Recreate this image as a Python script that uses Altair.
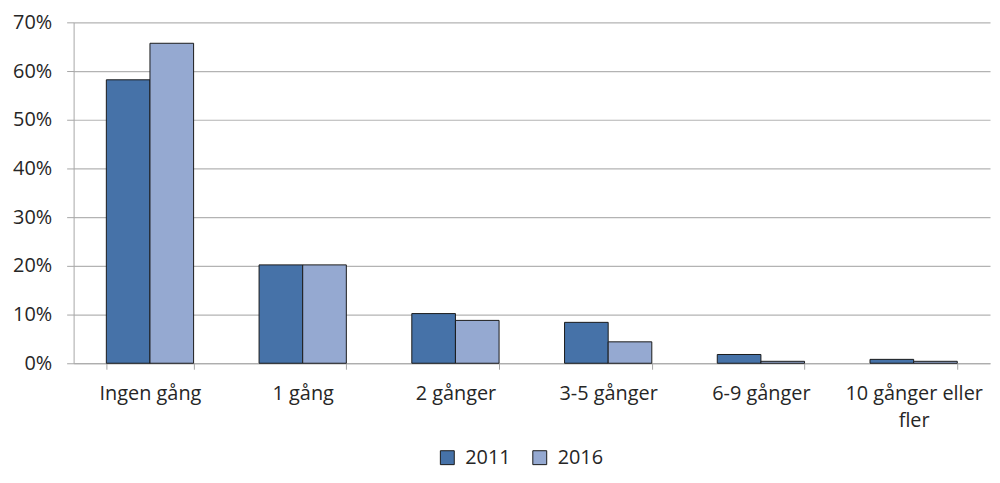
import altair as alt
import pandas as pd

categories = ['Ingen gång', '1 gång', '2 gånger', '3-5 gånger', '6-9 gånger', '10 gånger eller fler']
years = ['2011', '2016']
values_2011 = [0.582, 0.202, 0.102, 0.084, 0.018, 0.008]
values_2016 = [0.657, 0.202, 0.088, 0.044, 0.004, 0.004]
y_ticks = [0, 0.1, 0.2, 0.3, 0.4, 0.5, 0.6, 0.7]

rows = []
for cat, v1, v2 in zip(categories, values_2011, values_2016):
    rows.append({'kategori': cat, 'år': '2011', 'andel': v1})
    rows.append({'kategori': cat, 'år': '2016', 'andel': v2})
df = pd.DataFrame(rows)

font = 'Open Sans'

chart = alt.Chart(df).mark_bar(stroke='#1a1a1a', strokeWidth=1).encode(
    x=alt.X('kategori:N', sort=categories, title=None,
            scale=alt.Scale(paddingInner=0.4286, paddingOuter=0.2143),
            axis=alt.Axis(labelAngle=0, tickBand='extent', tickSize=6,
                          domainColor='#a6a6a6', tickColor='#a6a6a6',
                          labelFont=font, labelFontSize=20, labelColor='#262626',
                          labelPadding=14, labelLimit=300, labelLineHeight=28,
                          labelExpr="datum.value == '10 gånger eller fler' ? ['10 gånger eller', 'fler'] : datum.value")),
    xOffset=alt.XOffset('år:N', sort=years, scale=alt.Scale(paddingInner=0, paddingOuter=0)),
    y=alt.Y('andel:Q', title=None,
            scale=alt.Scale(domain=[0, 0.7], nice=False),
            axis=alt.Axis(values=y_ticks, format='.0%', tickSize=7,
                          domainColor='#a6a6a6', tickColor='#a6a6a6',
                          gridColor='#b3b3b3', gridWidth=1.2,
                          labelFont=font, labelFontSize=20, labelColor='#262626',
                          labelPadding=15)),
    color=alt.Color('år:N', sort=years, title=None,
                    scale=alt.Scale(domain=years, range=['#4672a8', '#95a9d1']),
                    legend=alt.Legend(orient='none', direction='horizontal',
                                      legendX=366, legendY=428,
                                      symbolType='square', symbolSize=196,
                                      symbolStrokeColor='#1a1a1a', symbolStrokeWidth=1,
                                      labelFont=font, labelFontSize=20, labelColor='#262626',
                                      columnPadding=19, labelOffset=8))
).properties(
    width=922,
    height=343,
    autosize=alt.AutoSizeParams(type='none'),
    padding={'left': 66, 'top': 13, 'right': 2, 'bottom': 111}
).configure_view(
    stroke=None
)

chart.save("out.html", embed_options={"renderer": "svg", "actions": False})
